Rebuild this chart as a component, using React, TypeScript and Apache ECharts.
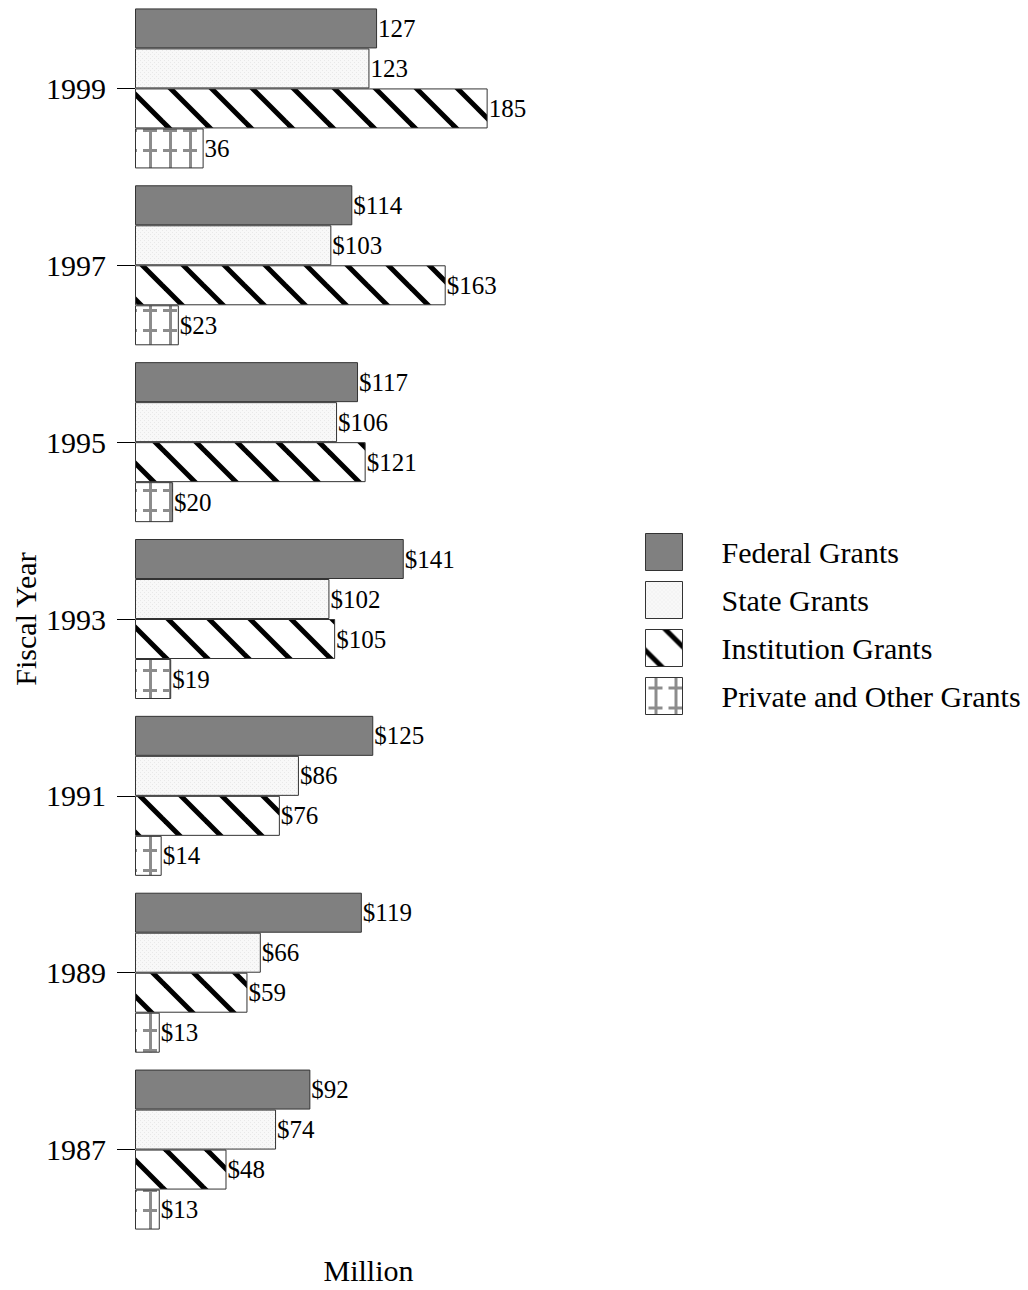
import React, { useEffect, useRef } from "react";
import * as echarts from "echarts";

// Fiscal years, listed top to bottom
const years = ["1999", "1997", "1995", "1993", "1991", "1989", "1987"];

// Grant amounts in millions of dollars, one value per year above
const federalGrants = [127, 114, 117, 141, 125, 119, 92];
const stateGrants = [123, 103, 106, 102, 86, 66, 74];
const institutionGrants = [185, 163, 121, 105, 76, 59, 48];
const privateGrants = [36, 23, 20, 19, 14, 13, 13];

const seriesNames = [
  "Federal Grants",
  "State Grants",
  "Institution Grants",
  "Private and Other Grants",
];

// The most recent year is labelled without a dollar sign
const plainLabelYears = ["1999"];

const FONT = "'Liberation Serif', 'Times New Roman', Times, serif";

function makeTile(size: number, draw: (ctx: CanvasRenderingContext2D, s: number) => void) {
  const c = document.createElement("canvas");
  c.width = size;
  c.height = size;
  const ctx = c.getContext("2d")!;
  draw(ctx, size);
  return c;
}

// Black "\" stripes on white; shift moves the stripes along the tile
function stripePattern(shift: number) {
  return makeTile(41, (ctx, s) => {
    ctx.fillStyle = "#ffffff";
    ctx.fillRect(0, 0, s, s);
    ctx.strokeStyle = "#000000";
    ctx.lineWidth = 5;
    for (const off of [-s, 0, s]) {
      ctx.beginPath();
      ctx.moveTo(off + shift - s, -s);
      ctx.lineTo(off + shift + 2 * s, 2 * s);
      ctx.stroke();
    }
  });
}

function dotPattern() {
  return makeTile(4, (ctx, s) => {
    ctx.fillStyle = "#f8f8f8";
    ctx.fillRect(0, 0, s, s);
    ctx.fillStyle = "#e8e8e8";
    ctx.fillRect(0, 0, 1, 1);
    ctx.fillRect(2, 2, 1, 1);
  });
}

// Solid grey verticals crossed by dashed grey horizontals
function gridPattern() {
  return makeTile(20, (ctx, s) => {
    ctx.fillStyle = "#ffffff";
    ctx.fillRect(0, 0, s, s);
    ctx.fillStyle = "#8c8c8c";
    ctx.fillRect(9, 0, 3, s);
    ctx.fillRect(3, 9, 14, 3);
  });
}

export default function App() {
  const ref = useRef<HTMLDivElement>(null);

  useEffect(() => {
    document.body.style.margin = "0";
    const chart = echarts.init(ref.current!, null, { renderer: "svg" });

    const fills: any[] = [
      "#808080",
      { image: dotPattern(), repeat: "repeat" },
      { image: stripePattern(0), repeat: "repeat" },
      { image: gridPattern(), repeat: "repeat" },
    ];
    const values = [federalGrants, stateGrants, institutionGrants, privateGrants];

    const series = seriesNames.map((name, i) => ({
      name,
      type: "bar",
      data: values[i],
      barWidth: 40,
      barGap: "0%",
      itemStyle: {
        color: fills[i],
        borderColor: "#333333",
        borderWidth: 1,
      },
      label: {
        show: true,
        position: "right",
        distance: 1,
        fontFamily: FONT,
        fontSize: 25,
        color: "#000000",
        formatter: (p: any) =>
          plainLabelYears.includes(p.name) ? String(p.value) : "$" + p.value,
      },
    }));

    const legendData = seriesNames.map((name, i) =>
      i === 2
        ? { name, itemStyle: { color: { image: stripePattern(20), repeat: "repeat" } } }
        : { name }
    );

    chart.setOption({
      animation: false,
      backgroundColor: "#ffffff",
      textStyle: { fontFamily: FONT },
      grid: { left: 135, top: 0, width: 467, height: 1245, containLabel: false },
      legend: {
        orient: "vertical",
        left: 645,
        top: 533,
        padding: 0,
        itemWidth: 37,
        itemHeight: 37,
        itemGap: 10,
        icon: "rect",
        data: legendData,
        itemStyle: { borderColor: "#333333", borderWidth: 1 },
        textStyle: {
          fontFamily: FONT,
          fontSize: 30,
          color: "#000000",
          padding: [0, 0, 0, 34],
        },
      },
      xAxis: {
        type: "value",
        min: 0,
        max: 245,
        name: "Million",
        nameLocation: "middle",
        nameGap: 17,
        nameTextStyle: { fontFamily: FONT, fontSize: 30, color: "#000000" },
        axisLine: { show: false },
        axisTick: { show: false },
        axisLabel: { show: false },
        splitLine: { show: false },
      },
      yAxis: {
        type: "category",
        data: years,
        inverse: true,
        name: "Fiscal Year",
        nameLocation: "middle",
        nameRotate: 90,
        nameGap: 95,
        nameTextStyle: {
          fontFamily: FONT,
          fontSize: 30,
          color: "#000000",
          padding: [12, 0, 0, 0],
        },
        axisLine: { show: false },
        axisTick: {
          show: true,
          alignWithLabel: true,
          length: 18,
          lineStyle: { color: "#000000", width: 1 },
        },
        axisLabel: {
          fontFamily: FONT,
          fontSize: 30,
          color: "#000000",
          margin: 29,
        },
      },
      series,
    });

    return () => chart.dispose();
  }, []);

  return <div ref={ref} style={{ width: 1028, height: 1290 }} />;
}
